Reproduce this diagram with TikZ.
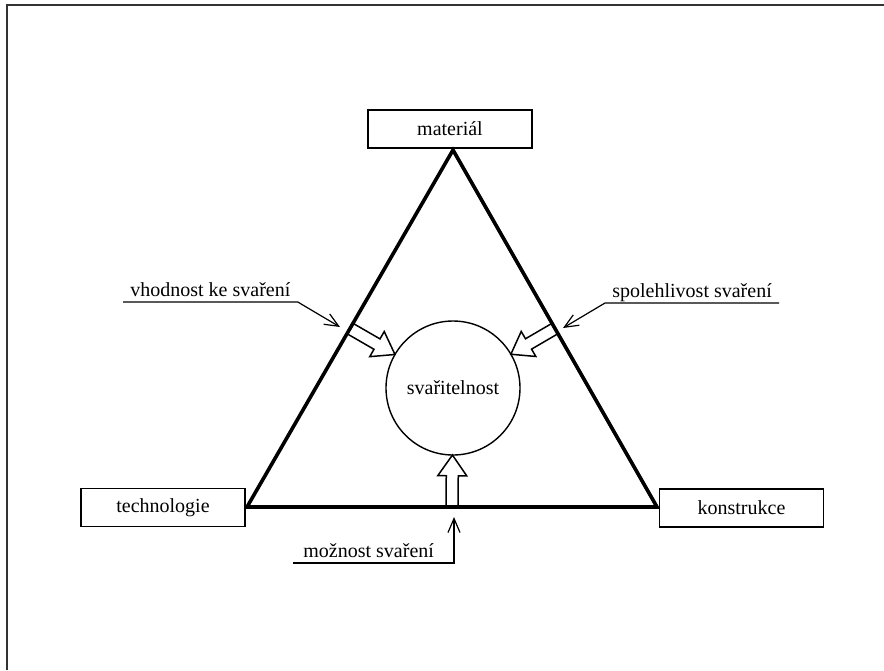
\documentclass[tikz,border=0pt]{standalone}
\usepackage{fontspec}
\setmainfont{Liberation Serif}
\usepackage{tikz}
\usetikzlibrary{arrows.meta, positioning, calc}

\begin{document}
\begin{tikzpicture}[x=0.5pt, y=-0.5pt,
      b/.style={draw, line width=0.75pt, minimum width=82pt, minimum height=19pt, inner sep=0pt},
      lbl/.style={inner xsep=3.5pt, inner ysep=2.5pt, text depth=0pt},
      tenka/.style={line width=0.6pt, -{Straight Barb[length=7pt, width=6pt]}},
      trojuh/.style={line width=1.8pt, line join=miter}]
    \useasboundingbox (0,0) rectangle (884,670);
    % ramecek
    \draw[line width=1pt, black!80] (7,670) -- (7,5) -- (884,5);

    % vrcholy trojuhelniku
    \coordinate (v1) at (453,150);
    \coordinate (v2) at (247,507);
    \coordinate (v3) at (657,507);
    \draw[trojuh] (v1) -- (v2) -- (v3) -- cycle;

    \node[b] (mat) at (450,129) {materiál};
    \node[b] (tech) at (163,507.5) {technologie};
    \node[b] (kon) at (741.5,508) {konstrukce};

    \node[draw, circle, line width=0.7pt, minimum size=67pt, inner sep=0pt] (svar) at (453,388) {svařitelnost};

    % stredy stran
    \coordinate (m1) at ($(v1)!0.5!(v2)$);
    \coordinate (m2) at ($(v1)!0.5!(v3)$);
    \coordinate (m3) at ($(v2)!0.5!(v3)$);

    % duta sipky ke kruhu
    \foreach \m in {m1, m2, m3} {
      \coordinate (hr) at ($(svar.center)!33.5pt!(\m)$);
      \coordinate (kr) at ($(\m)!0.6!(hr)$);
      \draw[line width=0.75pt, line join=miter]
        ($(\m)!3pt!-90:(hr)$) -- ($(kr)!3pt!-90:(hr)$) -- ($(kr)!7.25pt!-90:(hr)$) -- (hr)
        -- ($(kr)!7.25pt!90:(hr)$) -- ($(kr)!3pt!90:(hr)$) -- ($(\m)!3pt!90:(hr)$);
    }

    % popisky
    \node[lbl, anchor=south west] (lv) at (123,302) {vhodnost ke svaření};
    \node[lbl, anchor=south west] (ls) at (605,303) {spolehlivost svaření};
    \node[lbl, anchor=south west, inner xsep=5pt] (lm) at (293,563) {možnost svaření};
    \coordinate (tv) at (340,327);
    \coordinate (ts) at (563,328);
    \coordinate (tm) at (454,517);
    \draw[tenka] (lv.south west) -- (lv.south east) -- (tv);
    \draw[tenka] (ls.south east) -- (ls.south west) -- (ts);
    \draw[tenka] (lm.south west) -- (tm |- lm.south) -- (tm);
  \end{tikzpicture}
\end{document}
